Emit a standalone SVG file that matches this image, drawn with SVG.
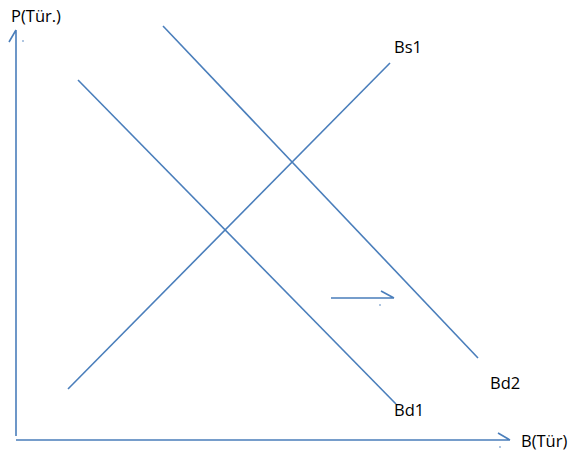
<svg xmlns="http://www.w3.org/2000/svg" width="581" height="456" viewBox="0 0 581 456">
<style>
.ln{stroke:#4a7ebb;stroke-width:1.6;fill:none}
.t{font-family:"Open Sans","Liberation Sans",sans-serif;font-size:16.5px;fill:#000}
.dot{fill:#4a7ebb}
</style>
<rect width="581" height="456" fill="#fff"/>
<g id="connectors">
<g id="y-axis"><path class="ln" d="M16,436 L16,30 M16,30 L9,42"/><circle class="dot" cx="23" cy="41" r="0.8"/></g>
<g id="x-axis"><path class="ln" d="M16,440 L510,440 M510,440 L498,433"/><circle class="dot" cx="500" cy="447" r="0.8"/></g>
<g id="shift-arrow"><path class="ln" d="M331,298 L394,298 M394,298 L381,291"/><circle class="dot" cx="380" cy="305" r="0.8"/></g>
<path id="Bs1-line" class="ln" d="M68,389 L390,63"/>
<path id="Bd1-line" class="ln" d="M78,80 L396,404"/>
<path id="Bd2-line" class="ln" d="M163,26 L478,358"/>
</g>
<g id="label-P"><text class="t" x="11" y="22">P(Tür.)</text></g>
<g id="label-B"><text class="t" x="521" y="447">B(Tür)</text></g>
<g id="label-Bs1"><text class="t" x="394" y="53">Bs1</text></g>
<g id="label-Bd2"><text class="t" x="490" y="389">Bd2</text></g>
<g id="label-Bd1"><text class="t" x="394" y="416">Bd1</text></g>
</svg>
